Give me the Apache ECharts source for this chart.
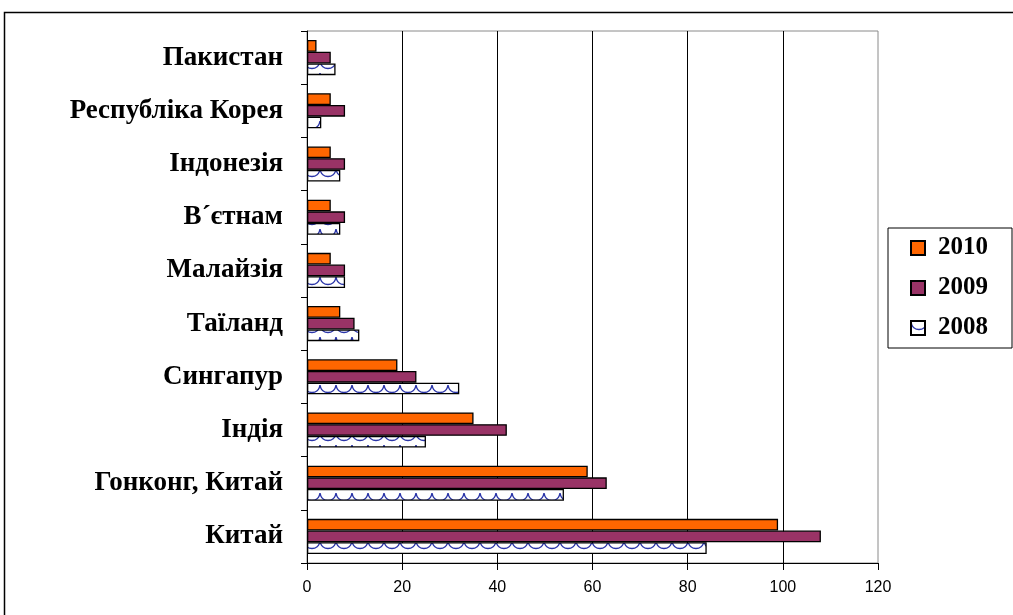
<!DOCTYPE html>
<html>
<head>
<meta charset="utf-8">
<script src="https://cdn.jsdelivr.net/npm/echarts@6/dist/echarts.min.js"></script>
<style>
  html, body { margin: 0; padding: 0; background: #fff; }
  #chart { width: 1013px; height: 615px; }
</style>
</head>
<body>
<div id="chart"></div>
<script>
// Countries, listed bottom to top along the category axis
const countries = ['Китай', 'Гонконг, Китай', 'Індія', 'Сингапур', 'Таїланд',
  'Малайзія', 'В´єтнам', 'Індонезія', 'Республіка Корея', 'Пакистан'];
const values2010 = [99, 59, 35, 19, 7, 5, 5, 5, 5, 2];
const values2009 = [108, 63, 42, 23, 10, 8, 8, 8, 8, 5];
const values2008 = [84, 54, 25, 32, 11, 8, 7, 7, 3, 6];
const xTicks = [0, 20, 40, 60, 80, 100, 120];

// Scalloped navy hatching on white for the 2008 bars
function makeHatch() {
  const c = document.createElement('canvas');
  c.width = 16; c.height = 12;
  const g = c.getContext('2d');
  g.fillStyle = '#ffffff';
  g.fillRect(0, 0, 16, 12);
  g.strokeStyle = '#2a35a8';
  g.lineWidth = 1.4;
  g.beginPath();
  g.moveTo(0, 1);
  g.bezierCurveTo(1.5, 11, 14.5, 11, 16, 1);
  g.stroke();
  return c;
}
const hatch = { image: makeHatch(), repeat: 'repeat' };

const chart = echarts.init(document.getElementById('chart'));
const barBorder = { borderColor: '#000', borderWidth: 1.3 };
const serifBold = { fontFamily: 'Liberation Serif', fontWeight: 'bold', color: '#000' };

chart.setOption({
  animation: false,
  backgroundColor: '#fff',
  graphic: [{
    type: 'rect',
    shape: { x: 4.5, y: 12.5, width: 1200, height: 800 },
    style: { fill: 'none', stroke: '#000', lineWidth: 1.5 },
    silent: true
  }],
  grid: {
    left: 307, right: 135, top: 31, bottom: 52,
    show: true, borderColor: '#8a8a8a', borderWidth: 1
  },
  legend: {
    orient: 'vertical',
    left: 888, top: 228,
    data: ['2010', '2009', '2008'],
    borderColor: '#000', borderWidth: 1,
    padding: [7, 24, 7, 22],
    itemWidth: 14, itemHeight: 14,
    itemGap: 14,
    icon: 'rect',
    textStyle: Object.assign({ fontSize: 25, lineHeight: 26, padding: [0, 0, 0, 8] }, serifBold)
  },
  xAxis: {
    type: 'value',
    min: xTicks[0], max: xTicks[xTicks.length - 1], interval: 20,
    axisLine: { show: true, lineStyle: { color: '#000', width: 1 } },
    axisTick: { show: true, length: 7, lineStyle: { color: '#000' } },
    axisLabel: { fontFamily: 'Liberation Sans', fontSize: 16, color: '#000', margin: 17 },
    splitLine: { show: true, showMaxLine: false, lineStyle: { color: '#000', width: 1 } }
  },
  yAxis: {
    type: 'category',
    data: countries,
    axisLine: { show: true, lineStyle: { color: '#000', width: 1 } },
    axisTick: { show: true, length: 6, lineStyle: { color: '#000' } },
    axisLabel: Object.assign({ fontSize: 27, margin: 24 }, serifBold)
  },
  series: [
    { name: '2010', type: 'bar', data: values2010, barWidth: 11.7, barGap: '0%',
      itemStyle: Object.assign({ color: '#ff6600' }, barBorder) },
    { name: '2009', type: 'bar', data: values2009, barWidth: 11.7, barGap: '0%',
      itemStyle: Object.assign({ color: '#993366' }, barBorder) },
    { name: '2008', type: 'bar', data: values2008, barWidth: 11.7, barGap: '0%',
      itemStyle: Object.assign({ color: hatch }, barBorder) }
  ]
});
</script>
</body>
</html>
